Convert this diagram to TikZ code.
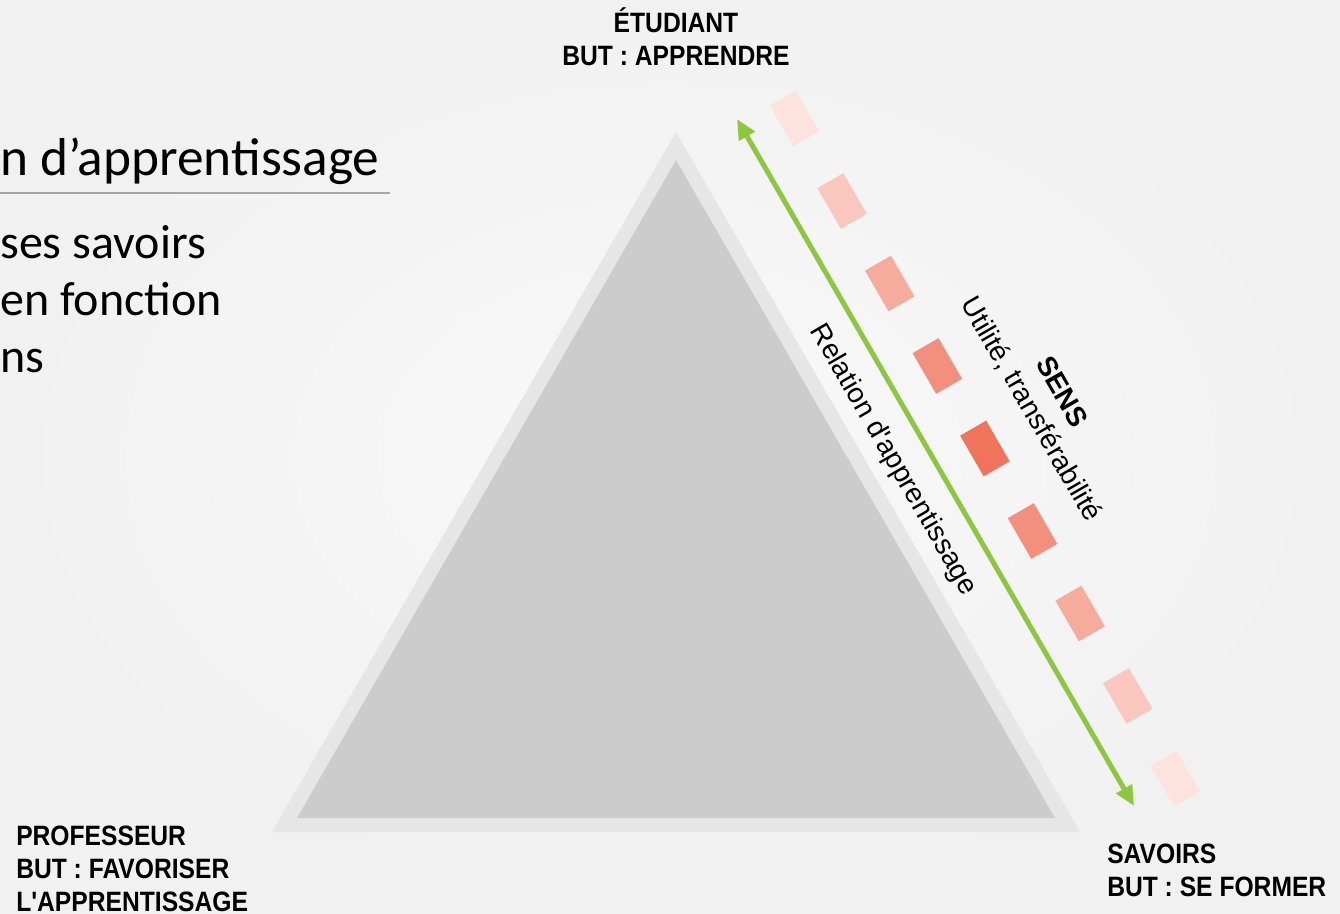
\documentclass[tikz,border=0pt]{standalone}
\usepackage{fontspec}
\setmainfont[Ligatures=TeXOff]{Liberation Sans}
\newfontfamily\slidefont{Carlito}
\newfontfamily\polefont[FakeStretch=0.88,Ligatures=TeXOff]{Liberation Sans}
\usetikzlibrary{arrows.meta}

\definecolor{bgin}{HTML}{F9F9F9}
\definecolor{bgout}{HTML}{F1F1F1}
\definecolor{rimgray}{HTML}{E6E6E6}
\definecolor{coregray}{HTML}{CCCCCC}
\definecolor{sensred}{HTML}{F0745C}
\definecolor{relgreen}{HTML}{8DC63F}
\definecolor{rulegray}{HTML}{A6A6A6}

\begin{document}
\begin{tikzpicture}[x=0.75pt,y=-0.75pt,
    pole/.style = {font=\polefont\bfseries\fontsize{21}{24.5}\selectfont, inner sep=0pt},
    slanted/.style = {font=\fontsize{21}{26}\selectfont, rotate=-60, inner sep=0pt, align=center},
    sensbox/.style = {rotate=-60, minimum width=35.25pt, minimum height=22.5pt, inner sep=0pt},
    slide/.style = {font=\slidefont\fontsize{36}{42}\selectfont, inner sep=0pt, anchor=base west}]
        % background
        \shade[inner color=bgin, outer color=bgout] (0,0) rectangle (1340,914);
        \useasboundingbox (0,0) rectangle (1340,914);

        % text of the slide, cut at the left edge
        \node[slide, font=\slidefont\fontsize{40}{47}\selectfont] (SlideTitle) at (0,175) {n d’apprentissage};
        \draw[rulegray, line width=2pt] (0,193) -- (390,193);
        \node[slide] (LineA) at (0,258) {ses savoirs};
        \node[slide] (LineB) at (0,315) {en fonction};
        \node[slide] (LineC) at (0,372) {ns};

        % triangle
        \fill[rimgray] (676,132) -- (1080,832) -- (272,832) -- cycle;
        \fill[coregray] (676,160) -- (1055,818) -- (297,818) -- cycle;

        % sens boxes
        \foreach \i/\t in {0/20,1/40,2/60,3/80,4/100,5/80,6/60,7/40,8/20}
            \node[sensbox, fill=sensred!\t] (Box\i) at ({794.5+47.6*\i},{118.5+82.5*\i}) {};

        % relation arrow
        \coordinate (RelTop) at (737,119);
        \coordinate (RelBot) at (1134,806);
        \draw[relgreen, line width=3.75pt, {Triangle[length=15pt,width=13pt]}-{Triangle[length=15pt,width=13pt]}] (RelTop) -- (RelBot);

        \node[slanted] (RelationLabel) at (893,460) {Relation d'apprentissage};
        \node[slanted] (SensLabel) at (1046,401) {\textbf{SENS}\\Utilité, transférabilité};

        % poles (base = last line)
        \node[pole, align=center, anchor=base] (Etudiant) at (676,65) {ÉTUDIANT\\BUT : APPRENDRE};
        \node[pole, align=left, anchor=base west] (Professeur) at (16,911) {PROFESSEUR\\BUT : FAVORISER\\L'APPRENTISSAGE};
        \node[pole, align=left, anchor=base west] (Savoirs) at (1107,896) {SAVOIRS\\BUT : SE FORMER};
    \end{tikzpicture}
\end{document}
